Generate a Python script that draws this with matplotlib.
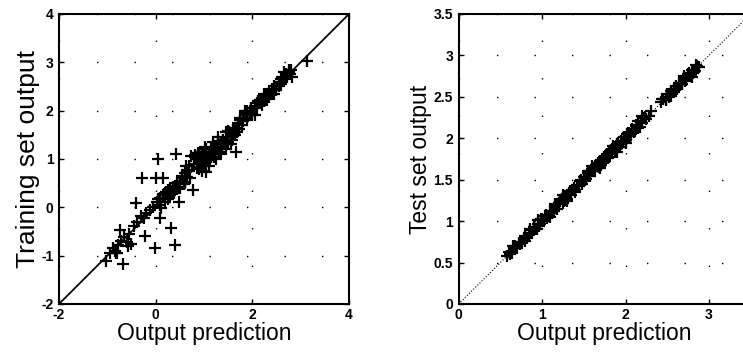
import matplotlib.pyplot as plt

plt.rcParams['font.family'] = ['Liberation Sans', 'DejaVu Sans']

# training set: network prediction vs. target
train_pred = [-1.03, -0.67, -0.84, -0.80, -0.74, -0.57, -0.50, -0.40, -0.29, -0.23,
              -0.02, 0.05, 0.15, 0.00, 0.42, 0.32, 0.39, 0.08, 0.49, 0.73,
              1.66, 3.13, 0.77, 1.04, 0.62,
              -0.95, -0.88, -0.82, -0.78, -0.72, -0.65, -0.60, -0.55, -0.45, -0.38,
              -0.30, -0.25, -0.20, -0.12, -0.05, 0.02, 0.05, 0.08, 0.10, 0.12,
              0.15, 0.18, 0.20, 0.22, 0.25, 0.28, 0.30, 0.35, 0.38, 0.40,
              0.45, 0.48, 0.50, 0.55, 0.58, 0.60, 0.65, 0.70, 0.72,
              0.80, 0.82, 0.85, 0.88, 0.90, 0.92, 0.95, 0.98, 1.00, 1.02,
              1.05, 1.08, 1.10, 1.12, 1.15, 1.18, 1.20, 1.22, 1.25, 1.28,
              1.30, 1.32, 1.35, 1.38, 1.40, 1.42, 1.45, 1.48, 1.50, 1.52,
              1.55, 1.58, 1.60, 1.62, 1.65, 1.68, 1.70, 1.72, 1.75, 1.78,
              1.80, 1.85, 1.88, 1.90, 1.95, 1.98, 2.00, 2.05, 2.10, 2.12,
              2.15, 2.20, 2.25, 2.28, 2.30, 2.35, 2.40, 2.45, 2.50, 2.55,
              2.60, 2.62, 2.65, 2.70, 2.72, 2.75, 2.78, 2.80, 2.82, 2.75,
              0.95, 1.05, 1.15, 1.25, 1.35, 1.45, 1.55, 0.85, 0.90, 1.00,
              0.85, 0.90, 0.95, 1.00, 1.05, 1.10, 1.15, 1.20, 1.30, 1.40,
              1.50, 1.60, 1.70, 1.80, 1.90, 2.00, 2.10, 2.20, 2.30, 2.40,
              2.50, 2.60, 2.70, 0.30, 0.40, 0.50, 0.60, 0.65, 0.55, 0.45,
              0.35, 0.25, 1.75, 1.95, 2.15, 2.35, 2.55,
              0.82, 0.88, 0.95, 1.02, 1.10, 1.18, 1.25, 1.35, 1.45, 1.55,
              1.65, 1.85, 2.05, 2.25, 2.45, 2.65, 1.30, 1.00, 0.70, 0.60]
train_out = [-1.12, -1.17, -0.91, -0.95, -0.47, -0.81, -0.75, 0.08, 0.60, -0.60,
             -0.84, 1.00, 0.60, 0.60, 1.11, -0.43, -0.77, -0.23, 0.12, 1.07,
             1.14, 3.03, 0.36, 0.73, 0.85,
             -0.95, -0.85, -0.95, -0.78, -0.70, -0.62, -0.72, -0.55, -0.38, -0.30,
             -0.18, -0.22, -0.12, -0.05, 0.00, 0.12, 0.18, 0.05, 0.20, -0.02,
             0.25, 0.28, 0.10, 0.32, 0.35, 0.22, 0.40, 0.42, 0.30, 0.45,
             0.50, 0.42, 0.55, 0.60, 0.48, 0.70, 0.62, 0.75, 0.60,
             0.90, 1.05, 0.82, 1.00, 1.10, 0.95, 1.05, 0.88, 1.00, 1.12,
             0.95, 1.05, 1.15, 1.00, 1.20, 1.10, 1.05, 1.25, 1.15, 1.30,
             1.20, 1.10, 1.35, 1.25, 1.40, 1.30, 1.20, 1.45, 1.35, 1.55,
             1.50, 1.40, 1.60, 1.50, 1.65, 1.55, 1.75, 1.62, 1.80, 1.70,
             1.85, 1.90, 1.80, 2.00, 1.95, 2.05, 2.00, 2.10, 2.05, 2.20,
             2.15, 2.25, 2.20, 2.35, 2.30, 2.40, 2.35, 2.50, 2.45, 2.60,
             2.55, 2.70, 2.65, 2.75, 2.70, 2.80, 2.75, 2.85, 2.70, 2.85,
             1.10, 1.15, 1.05, 1.20, 1.30, 1.35, 1.45, 1.00, 0.80, 1.08,
             1.05, 0.92, 1.15, 0.90, 1.20, 0.98, 1.08, 1.18, 1.38, 1.32,
             1.58, 1.48, 1.62, 1.78, 1.95, 1.92, 2.15, 2.12, 2.25, 2.45,
             2.42, 2.65, 2.68, 0.25, 0.35, 0.40, 0.52, 0.78, 0.65, 0.38,
             0.32, 0.18, 1.85, 1.90, 2.22, 2.28, 2.50,
             1.08, 1.12, 0.75, 1.25, 0.85, 1.35, 1.00, 1.15, 1.55, 1.30,
             1.50, 2.00, 1.90, 2.35, 2.35, 2.80, 1.45, 0.85, 0.85, 0.50]

# test set: network prediction vs. target
test_pred = [0.58, 0.62, 0.66, 0.70, 0.72, 0.76, 0.80, 0.84, 0.88, 0.90,
             0.92, 0.95, 0.98, 1.00, 1.02, 1.05, 1.08, 1.10, 1.12, 1.15,
             1.18, 1.22, 1.25, 1.28, 1.30, 1.32, 1.35, 1.38, 1.40, 1.45,
             1.48, 1.50, 1.52, 1.55, 1.58, 1.60, 1.62, 1.65, 1.68, 1.70,
             1.72, 1.74, 1.76, 1.78, 1.80, 1.82, 1.84, 1.86, 1.88, 1.90,
             1.92, 1.94, 1.96, 1.98, 2.00, 2.02, 2.05, 2.08, 2.10, 2.12,
             2.15, 2.18, 2.20, 2.22, 2.25, 2.30, 2.42, 2.45, 2.48, 2.50,
             2.52, 2.55, 2.58, 2.60, 2.62, 2.65, 2.68, 2.70, 2.72, 2.75,
             2.78, 2.80, 2.83, 2.86, 2.88,
             0.90, 0.96, 1.04, 1.26, 1.34, 1.56, 1.66, 1.75, 1.85, 1.95,
             2.04, 1.70, 1.80, 1.90, 2.00, 1.60, 1.50, 1.42, 2.58, 2.68,
             0.60, 0.64, 0.68, 0.74, 0.78, 0.82, 0.86, 0.94, 0.99, 1.06,
             1.14, 1.20, 1.24, 1.29, 1.36, 1.44, 1.47, 1.53, 1.57, 1.63,
             1.67, 1.71, 1.77, 1.79, 1.83, 1.87, 1.91, 1.97, 2.03, 2.07,
             2.13, 2.17, 2.23, 2.28, 2.44, 2.49, 2.54, 2.59, 2.64, 2.71,
             2.76, 2.81, 2.85,
             0.65, 0.80, 0.95, 1.10, 1.25, 1.40, 1.55, 1.70, 1.85, 2.00,
             2.15, 2.55, 2.70, 2.80, 1.30, 1.60, 1.90, 2.20, 0.85, 1.15]
test_out = [0.58, 0.60, 0.67, 0.68, 0.74, 0.75, 0.82, 0.83, 0.86, 0.92,
            0.90, 0.97, 0.96, 1.03, 1.00, 1.08, 1.06, 1.12, 1.10, 1.18,
            1.15, 1.24, 1.22, 1.30, 1.27, 1.34, 1.32, 1.40, 1.38, 1.48,
            1.45, 1.53, 1.50, 1.58, 1.55, 1.63, 1.60, 1.68, 1.65, 1.73,
            1.70, 1.77, 1.74, 1.81, 1.78, 1.85, 1.82, 1.89, 1.86, 1.93,
            1.90, 1.97, 1.94, 2.01, 1.98, 2.05, 2.03, 2.11, 2.08, 2.15,
            2.13, 2.21, 2.18, 2.25, 2.23, 2.33, 2.44, 2.47, 2.46, 2.53,
            2.50, 2.57, 2.56, 2.63, 2.60, 2.67, 2.66, 2.73, 2.70, 2.77,
            2.76, 2.82, 2.81, 2.87, 2.86,
            0.93, 0.94, 1.06, 1.24, 1.36, 1.54, 1.68, 1.73, 1.87, 1.93,
            2.06, 1.68, 1.82, 1.88, 2.02, 1.62, 1.48, 1.44, 2.60, 2.66,
            0.63, 0.62, 0.70, 0.72, 0.80, 0.80, 0.89, 0.91, 1.02, 1.04,
            1.12, 1.22, 1.27, 1.26, 1.38, 1.42, 1.50, 1.51, 1.60, 1.60,
            1.70, 1.68, 1.79, 1.76, 1.86, 1.84, 1.94, 1.95, 2.06, 2.05,
            2.16, 2.14, 2.26, 2.27, 2.47, 2.48, 2.57, 2.58, 2.67, 2.69,
            2.79, 2.79, 2.88,
            0.70, 0.76, 1.01, 1.05, 1.31, 1.35, 1.61, 1.64, 1.91, 1.94,
            2.21, 2.51, 2.75, 2.74, 1.24, 1.66, 1.84, 2.27, 0.90, 1.21]

panels = [
    dict(x=train_pred, y=train_out, lim=(-2, 4),
         xticks=[-2, 0, 2, 4], yticks=[-2, -1, 0, 1, 2, 3, 4],
         ylabel='Training set output', ysize=19, ls='-',
         pos=[0.0794, 0.1437, 0.3903, 0.8169]),
    dict(x=test_pred, y=test_out, lim=(0, 3.5),
         xticks=[0, 1, 2, 3], yticks=[0, 0.5, 1, 1.5, 2, 2.5, 3, 3.5],
         ylabel='Test set output', ysize=16.5, ls=':',
         pos=[0.6173, 0.1437, 0.3930, 0.8169]),
]

fig = plt.figure(figsize=(7.43, 3.55), dpi=100)

for p in panels:
    ax = fig.add_axes(p['pos'])
    lo, hi = p['lim']
    ax.plot([lo, hi], [lo, hi], color='black', linestyle=p['ls'],
            linewidth=1.3 if p['ls'] == '-' else 0.8)
    ax.plot(p['x'], p['y'], linestyle='none', marker='+', color='black',
            markersize=8, markeredgewidth=1.6)
    ax.set_xlim(p['lim'])
    ax.set_ylim(p['lim'])
    ax.set_xticks(p['xticks'])
    ax.set_yticks(p['yticks'])
    ax.set_xticklabels([f'{t:g}' for t in p['xticks']])
    ax.set_yticklabels([f'{t:g}' for t in p['yticks']])
    for lab in ax.get_xticklabels() + ax.get_yticklabels():
        lab.set_fontweight('bold')
        lab.set_fontsize(10)
    ax.tick_params(direction='in', top=True, right=True, length=3.5,
                   width=1.0)
    ax.tick_params(axis='x', pad=3)
    ax.tick_params(axis='y', pad=4)
    for s in ax.spines.values():
        s.set_linewidth(1.5)
    ax.grid(True, color='black', linewidth=1.0, dashes=(1, 26))
    ax.set_xlabel('Output prediction', fontsize=16.5, labelpad=0)
    ax.set_ylabel(p['ylabel'], fontsize=p['ysize'], labelpad=1)

fig.savefig('out.png', dpi=100)
